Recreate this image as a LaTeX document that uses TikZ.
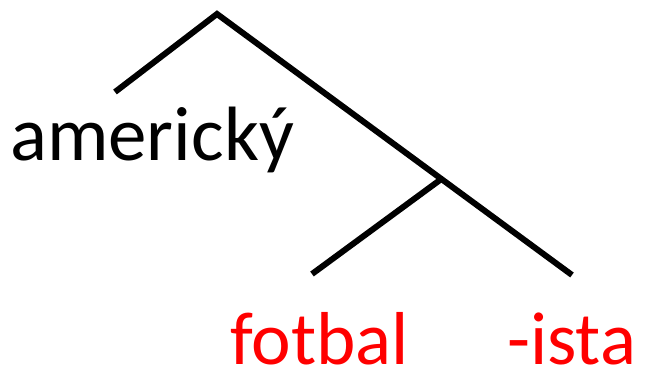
\documentclass[tikz,border=0pt]{standalone}
\usepackage{fontspec}
\setmainfont{Carlito}
\begin{document}
\begin{tikzpicture}[x=1pt,y=-1pt,
  branch/.style={line width=6pt},
  word/.style={inner sep=0pt,anchor=base west,font=\fontsize{77}{80}\selectfont},
  morph/.style={word,text=red,font=\fontsize{75}{78}\selectfont}]
\useasboundingbox (0,0) rectangle (646,371);
\coordinate (top) at (217,14);
\coordinate (left) at (115,92);
\coordinate (mid) at (440,180);
\coordinate (mleft) at (312,274);
\coordinate (right) at (572,275);

\draw[branch] (left) -- (top) -- (right);
\draw[branch] (mid) -- (mleft);

\node[word] (am) at (10,161) {americký};
\node[morph] (fot) at (230,365) {fotbal};
\node[morph] (ista) at (507,365) {-ista};
\end{tikzpicture}
\end{document}
